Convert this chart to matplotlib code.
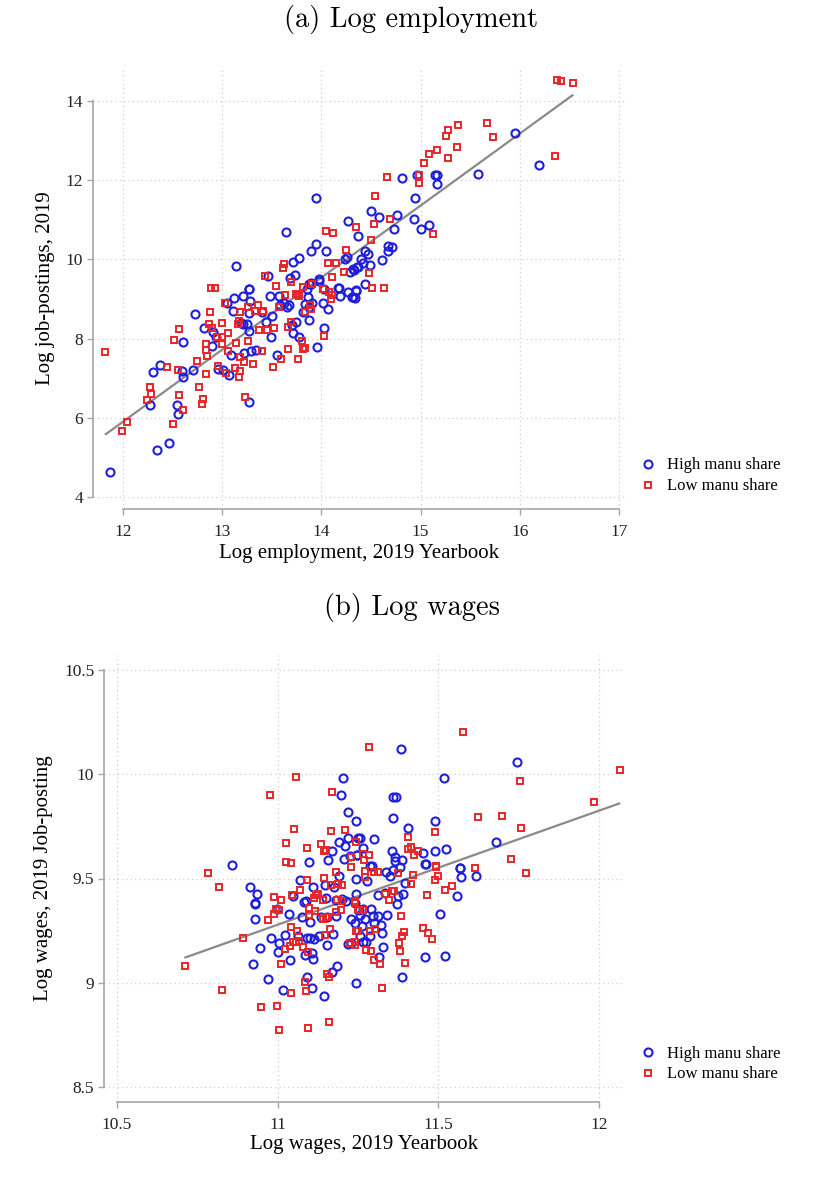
import matplotlib
matplotlib.use("Agg")
import matplotlib.pyplot as plt
from matplotlib.lines import Line2D

# ---------------- data: panel (a) ----------------
emp_high_x = [13.95,13.64,13.14,14.27,14.37,13.95,13.90,14.05,13.78,13.72,14.26,14.24,14.29,14.33,14.37,13.74,13.68,13.46,13.98,13.90,13.88,14.17,13.27,
              15.95,16.19,15.58,15.15,15.17,15.17,14.96,14.81,14.94,14.50,14.58,14.76,14.93,15.00,15.09,14.73,14.67,14.71,14.67,14.44,14.47,14.61,14.40,14.42,14.49,14.36,14.32,14.44,
              11.87,12.34,12.47,12.56,12.55,12.27,12.30,12.38,12.60,12.61,12.71,12.61,12.73,12.82,12.91,12.94,12.90,13.09,12.96,13.01,13.07,13.27,13.22,13.29,13.34,13.27,13.19,13.21,13.25,
              13.05,13.11,13.12,13.21,13.28,13.27,13.27,13.40,13.44,13.50,13.49,13.48,13.57,13.58,13.62,13.65,13.67,13.55,13.72,13.70,13.75,13.78,13.96,14.03,13.88,13.82,13.84,13.88,13.91,
              13.86,13.87,13.90,13.98,14.02,14.07,14.03,14.18,14.19,14.27,14.31,14.35,14.34,14.35,14.32]
emp_high_y = [11.55,10.68,9.84,10.97,10.59,10.39,10.21,10.22,10.04,9.94,10.07,10.01,9.68,9.73,9.80,9.60,9.52,9.59,9.50,9.41,9.38,9.29,9.26,
              13.20,12.39,12.15,12.12,12.14,11.89,12.12,12.05,11.54,11.22,11.06,11.12,11.02,10.77,10.87,10.76,10.34,10.31,10.22,10.21,10.13,9.98,10.02,9.91,9.86,9.81,9.75,9.38,
              4.63,5.20,5.36,6.10,6.33,6.33,7.15,7.33,7.18,7.04,7.22,7.91,8.63,8.27,8.16,8.04,7.81,7.58,7.23,7.21,7.07,6.40,7.63,7.70,7.72,8.18,8.40,8.37,8.36,
              8.90,8.69,9.02,9.07,8.94,8.65,9.24,8.66,8.43,8.57,8.04,9.07,9.07,8.86,8.89,8.80,8.85,7.58,8.15,8.34,8.41,8.05,7.80,8.27,8.47,8.68,8.88,8.80,8.90,
              9.24,9.06,9.38,9.46,8.90,8.76,9.26,9.29,9.07,9.17,9.06,9.20,9.02,9.23,9.06]

emp_low_x = [14.05,14.12,14.35,13.62,13.61,14.25,14.15,14.07,14.23,14.11,13.69,13.43,13.91,13.82,13.54,12.89,12.93,14.02,
             16.37,16.42,16.54,15.67,15.73,15.38,15.28,15.26,15.37,15.17,15.09,15.28,15.03,16.35,14.98,14.98,14.66,14.54,14.69,14.53,14.50,15.13,14.48,14.51,14.63,
             11.82,11.99,12.04,12.51,12.61,12.24,12.28,12.27,12.57,12.45,12.56,12.75,12.84,12.77,12.81,12.80,12.52,12.57,12.88,12.87,12.90,12.95,13.00,12.84,12.84,12.85,
             13.00,13.06,13.00,13.06,12.96,13.04,13.13,13.17,13.18,13.23,13.18,13.22,13.31,13.40,13.14,13.26,13.17,13.16,13.03,13.18,13.26,13.33,13.36,13.41,13.37,13.45,13.52,
             13.63,13.57,13.59,13.51,13.66,13.69,13.66,13.81,13.84,13.82,13.77,14.03,13.90,13.89,13.84,13.78,13.77,13.75,14.02,14.08,14.10,14.11]
emp_low_y = [10.72,10.67,10.81,9.88,9.79,10.23,9.92,9.90,9.69,9.55,9.43,9.59,9.38,9.31,9.32,9.28,9.28,9.26,
             14.52,14.50,14.44,13.44,13.10,13.39,13.27,13.11,12.84,12.76,12.67,12.56,12.44,12.60,12.13,11.92,12.07,11.60,11.02,10.90,10.50,10.63,9.65,9.28,9.28,
             7.66,5.68,5.89,5.84,6.19,6.46,6.60,6.79,6.58,7.28,7.21,7.44,7.11,6.77,6.47,6.34,7.96,8.25,8.66,8.37,8.27,8.04,8.04,7.86,7.71,7.55,
             7.86,8.14,8.39,7.69,7.31,7.14,7.26,7.02,7.18,6.52,7.53,7.40,7.36,7.69,7.90,7.95,8.45,8.36,8.90,8.66,8.80,8.69,8.85,8.70,8.23,8.23,8.27,
             9.09,8.80,7.49,7.28,7.73,8.41,8.30,7.95,7.76,7.74,7.49,8.07,8.74,8.84,8.67,9.07,9.11,9.13,9.24,9.17,9.00,9.09]

emp_fit_x = [11.83, 16.53]
emp_fit_y = [5.59, 14.14]

# ---------------- data: panel (b) ----------------
wage_high_x = [11.202,11.197,11.22,11.243,11.22,11.25,11.19,11.21,11.168,11.226,11.246,11.098,11.158,11.205,10.857,
               11.384,11.745,11.516,11.359,11.369,11.358,11.49,11.404,11.257,11.30,11.266,11.357,11.452,11.49,11.522,11.365,11.386,11.46,11.248,11.288,11.294,11.566,11.68,
               10.914,10.936,10.931,10.928,10.931,10.945,10.922,10.971,11.018,11.108,11.144,11.092,11.168,11.184,11.001,11.003,11.022,11.037,10.98,11.084,11.108,11.109,
               11.064,11.092,11.102,11.112,11.13,11.154,11.172,11.22,11.229,11.244,11.036,11.077,11.102,11.134,11.153,11.182,11.229,11.242,11.253,10.997,11.048,11.081,11.089,
               11.109,11.151,11.182,11.2,11.07,11.147,11.175,11.19,11.243,11.244,11.242,11.213,
               11.366,11.459,11.568,11.57,11.617,11.558,11.506,11.457,11.521,11.386,11.395,11.391,11.374,11.37,11.341,11.312,11.296,11.289,11.265,11.255,11.272,11.301,11.321,
               11.325,11.263,11.257,11.286,11.265,11.275,11.326,11.316,11.277,11.334,11.348,11.337,11.358,11.379,11.312]
wage_high_y = [9.983,9.90,9.82,9.777,9.693,9.695,9.674,9.656,9.634,9.607,9.611,9.58,9.588,9.592,9.566,
               10.122,10.058,9.983,9.888,9.891,9.789,9.776,9.744,9.696,9.691,9.644,9.634,9.624,9.634,9.639,9.602,9.589,9.568,9.613,9.562,9.562,9.551,9.674,
               9.46,9.427,9.384,9.379,9.304,9.165,9.093,9.018,8.965,8.974,8.939,9.03,9.052,9.082,9.147,9.192,9.229,9.108,9.217,9.135,9.142,9.114,
               9.226,9.216,9.214,9.208,9.224,9.184,9.235,9.188,9.192,8.998,9.331,9.318,9.291,9.318,9.318,9.32,9.307,9.288,9.35,9.355,9.414,9.387,9.39,
               9.458,9.408,9.399,9.403,9.494,9.47,9.457,9.511,9.499,9.427,9.384,9.39,
               9.583,9.568,9.548,9.505,9.511,9.414,9.328,9.125,9.129,9.028,9.478,9.427,9.415,9.379,9.324,9.32,9.32,9.352,9.355,9.323,9.307,9.288,9.275,
               9.24,9.273,9.226,9.226,9.195,9.195,9.172,9.125,9.486,9.432,9.511,9.53,9.542,9.557,9.419]

wage_low_x = [11.058,10.975,11.169,11.05,11.165,11.209,11.244,11.027,11.09,11.134,11.144,11.151,11.227,11.027,11.04,11.229,
              11.575,11.285,12.063,11.752,11.984,11.622,11.698,11.758,11.49,11.404,11.405,11.415,11.436,11.423,11.265,11.283,11.269,11.492,11.615,11.724,
              10.783,10.818,10.891,10.713,10.828,10.949,10.999,11.004,11.093,11.159,11.04,11.088,11.084,11.154,11.159,11.009,11.024,11.037,11.047,11.058,11.065,11.079,11.095,
              11.04,11.061,11.147,11.162,11.155,11.141,11.097,11.098,11.116,11.149,10.97,10.989,10.996,11.004,10.988,11.009,11.046,11.07,11.112,11.119,11.124,11.141,
              11.091,11.143,11.165,11.182,11.188,11.2,11.185,11.201,11.239,11.249,11.182,11.198,11.251,11.244,11.241,11.226,
              11.493,11.497,11.489,11.42,11.415,11.374,11.299,11.311,11.271,11.273,11.772,11.543,11.519,11.464,11.384,11.393,11.388,11.377,11.381,11.397,11.451,11.466,11.481,
              11.324,11.357,11.362,11.335,11.346,11.265,11.252,11.242,11.286,11.304,11.275,11.291,11.301,11.317,11.24]
wage_low_y = [9.988,9.90,9.915,9.735,9.728,9.73,9.674,9.669,9.645,9.666,9.634,9.637,9.605,9.58,9.573,9.557,
              10.20,10.13,10.02,9.969,9.864,9.793,9.80,9.74,9.723,9.70,9.639,9.65,9.634,9.611,9.616,9.614,9.589,9.557,9.551,9.592,
              9.527,9.457,9.214,9.082,8.965,8.886,8.889,8.773,8.784,8.814,8.95,8.963,9.004,9.042,9.03,9.092,9.163,9.179,9.195,9.198,9.203,9.174,9.147,
              9.267,9.248,9.229,9.259,9.318,9.307,9.358,9.326,9.344,9.315,9.302,9.331,9.352,9.35,9.41,9.399,9.422,9.446,9.408,9.419,9.427,9.398,
              9.494,9.501,9.47,9.53,9.475,9.471,9.395,9.393,9.39,9.347,9.339,9.347,9.251,9.248,9.195,9.192,
              9.559,9.514,9.495,9.519,9.475,9.525,9.533,9.533,9.538,9.509,9.527,9.465,9.444,9.42,9.32,9.245,9.226,9.192,9.155,9.097,9.262,9.24,9.21,
              8.974,9.438,9.438,9.427,9.398,9.347,9.347,9.382,9.251,9.256,9.16,9.152,9.112,9.092,9.183]

wage_fit_x = [10.713, 12.062]
wage_fit_y = [9.122, 9.859]

legend_labels = ["High manu share", "Low manu share"]

# ---------------- styling ----------------
plt.rcParams['font.family'] = ['Liberation Serif', 'DejaVu Serif']
BLUE = '#1f1fd8'
RED = '#e8262a'
GRAY = '#a6a6a6'
FIT = '#8a8a8a'

W, H = 823, 1182
fig = plt.figure(figsize=(W / 100, H / 100), dpi=100)


def px_axes(left, top, right, bottom):
    return fig.add_axes([left / W, 1 - bottom / H, (right - left) / W, (bottom - top) / H])


def style(ax, xticks, yticks, xlim, ylim, xt_labels, yt_labels):
    ax.set_xlim(*xlim)
    ax.set_ylim(*ylim)
    ax.set_xticks(xticks)
    ax.set_yticks(yticks)
    ax.set_xticklabels(xt_labels)
    ax.set_yticklabels(yt_labels)
    ax.grid(True, linestyle=(0, (1, 2.5)), color='#cfcfcf', linewidth=0.9)
    ax.set_axisbelow(True)
    for s in ['top', 'right']:
        ax.spines[s].set_visible(False)
    for s in ['left', 'bottom']:
        ax.spines[s].set_color(GRAY)
        ax.spines[s].set_linewidth(1.2)
    ax.spines['left'].set_bounds(yticks[0], yticks[-1])
    ax.spines['bottom'].set_bounds(xticks[0], xticks[-1])
    ax.tick_params(axis='both', direction='out', length=4, width=1.0, color=GRAY,
                   labelsize=12.5, labelcolor='#222222')
    ax.tick_params(axis='x', pad=7)
    ax.tick_params(axis='y', pad=3)


def scatter(ax, hx, hy, lx, ly, fx, fy):
    ax.plot(fx, fy, color=FIT, lw=1.6, zorder=2)
    ax.plot(hx, hy, linestyle='none', marker='o', ms=5.8, mfc='none', mec=BLUE, mew=1.5, zorder=3)
    ax.plot(lx, ly, linestyle='none', marker='s', ms=4.5, mfc='none', mec=RED, mew=1.4, zorder=3)


def legend(x, y):
    handles = [Line2D([], [], linestyle='none', marker='o', ms=5.8, mfc='none', mec=BLUE, mew=1.5),
               Line2D([], [], linestyle='none', marker='s', ms=4.5, mfc='none', mec=RED, mew=1.4)]
    fig.legend(handles, legend_labels, loc='center left', bbox_to_anchor=(x / W, 1 - y / H),
               frameon=False, fontsize=12, handlelength=1.0, handletextpad=0.6,
               labelspacing=0.3, borderpad=0, borderaxespad=0)


# panel (a)
ax1 = px_axes(93, 68, 625, 509)
scatter(ax1, emp_high_x, emp_high_y, emp_low_x, emp_low_y, emp_fit_x, emp_fit_y)
style(ax1, [12, 13, 14, 15, 16, 17], [4, 6, 8, 10, 12, 14], (11.70, 17.06), (3.70, 14.83),
      ['12', '13', '14', '15', '16', '17'], ['4', '6', '8', '10', '12', '14'])
ax1.set_xlabel('Log employment, 2019 Yearbook', fontsize=15, labelpad=3)
ax1.set_ylabel('Log job-postings, 2019', fontsize=15, labelpad=8)
fig.text(0.5, 1 - 19 / H, '(a) Log employment', ha='center', va='center', fontsize=20.5, family='cmr10')
legend(640, 476)

# panel (b)
ax2 = px_axes(104, 655, 625, 1102)
scatter(ax2, wage_high_x, wage_high_y, wage_low_x, wage_low_y, wage_fit_x, wage_fit_y)
style(ax2, [10.5, 11, 11.5, 12], [8.5, 9, 9.5, 10, 10.5], (10.46, 12.08), (8.43, 10.57),
      ['10.5', '11', '11.5', '12'], ['8.5', '9', '9.5', '10', '10.5'])
ax2.set_xlabel('Log wages, 2019 Yearbook', fontsize=15, labelpad=1)
ax2.set_ylabel('Log wages, 2019 Job-posting', fontsize=15, labelpad=8)
fig.text(0.5, 1 - 607 / H, '(b) Log wages', ha='center', va='center', fontsize=20.5, family='cmr10')
legend(640, 1064)

fig.savefig('out.png', dpi=100, facecolor='white')
